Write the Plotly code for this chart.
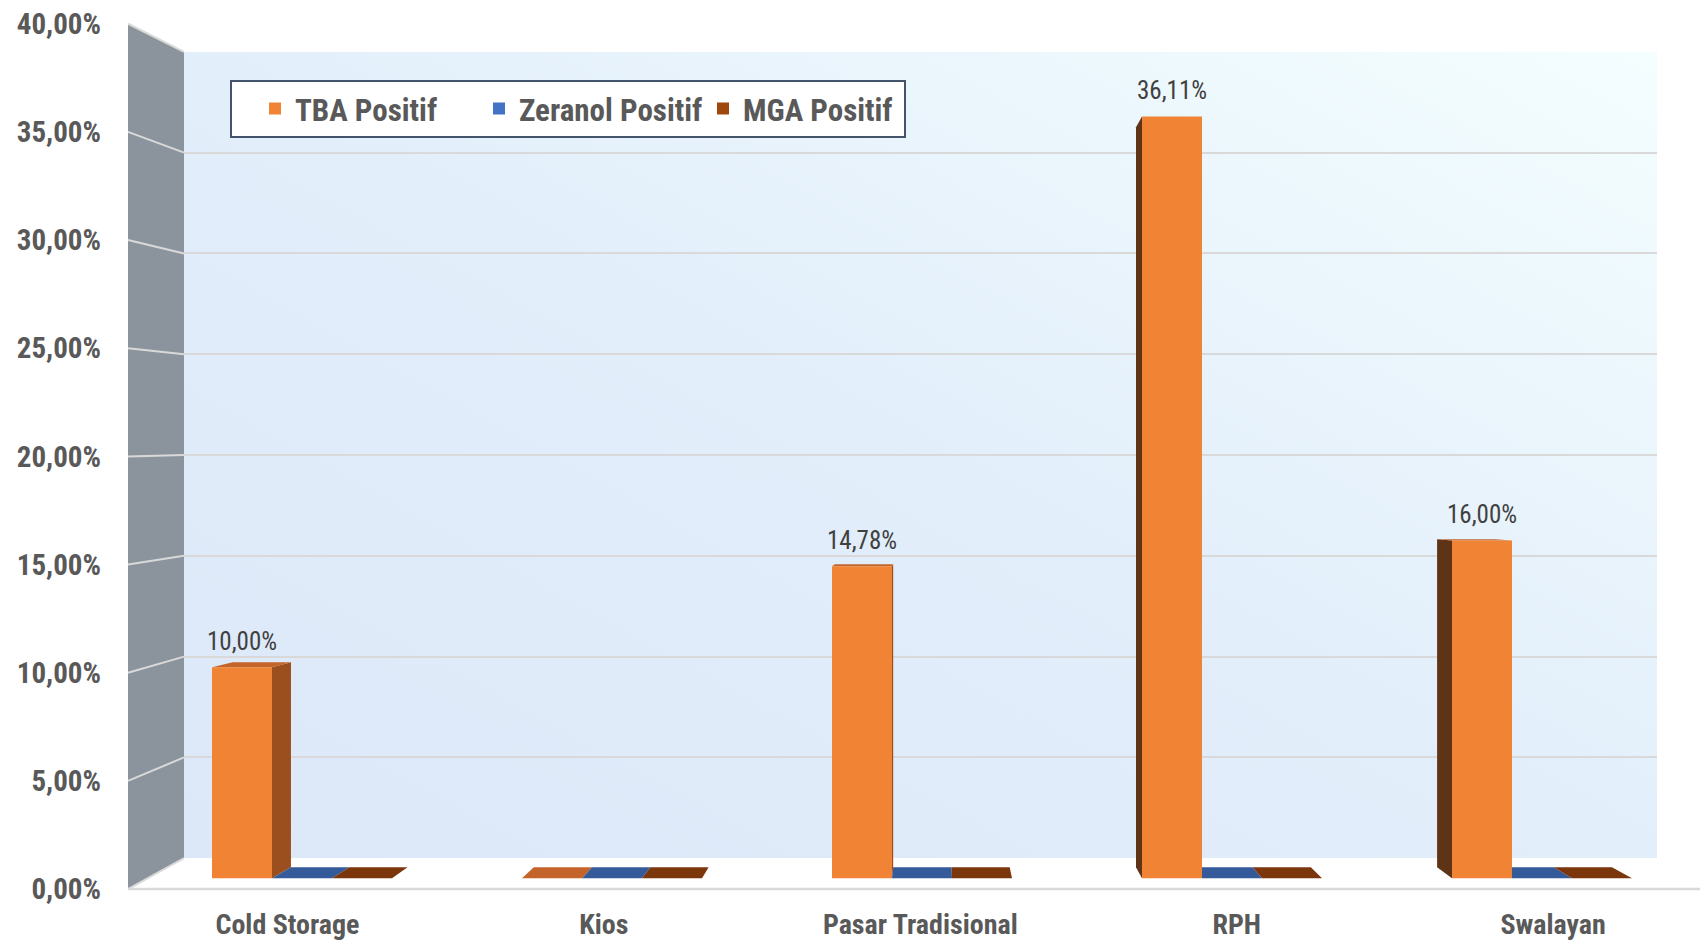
import base64
import plotly.graph_objects as go

# ---------------- data ----------------
categories = ["Cold Storage", "Kios", "Pasar Tradisional", "RPH", "Swalayan"]
series_names = ["TBA Positif", "Zeranol Positif", "MGA Positif"]
tba_positif = [0.1000, 0.0000, 0.1478, 0.3611, 0.1600]
zeranol_positif = [0.0, 0.0, 0.0, 0.0, 0.0]
mga_positif = [0.0, 0.0, 0.0, 0.0, 0.0]
value_ticks = [0.00, 0.05, 0.10, 0.15, 0.20, 0.25, 0.30, 0.35, 0.40]

series_values = [tba_positif, zeranol_positif, mga_positif]

# ---------------- style ----------------
front_colors = ["#f08434", "#4472c4", "#9e480e"]
top_colors = ["#c4632a", "#345a9a", "#7b360c"]
right_side_colors = ["#9b4f1e", "#2f528f", "#6b2f0a"]
left_side_colors = ["#5f3416", "#203864", "#4a2108"]
FONT = "Arial Narrow, Liberation Sans Narrow, Roboto Condensed, DejaVu Sans Condensed, Roboto, sans-serif"

W, H = 1700, 941
# scene geometry (pixels)
BAR_BASE_PX, BAR_PX = 880.0, 2114.0          # bar front plane
GROUP_PX0, GROUP_PITCH, GROUP_WIDTH_PX = 302.0, 310.0, 180.0
FRONT_BASE_PX, FRONT_PX = 891.0, 2168.0      # front edge (tick labels)
BACK_BASE_PX, BACK_PX = 860.0, 2020.0        # back wall
WALL_LEFT, WALL_RIGHT = 184.0, 1657.0
SIDE_FRONT_X = 128.0
LABEL_PX0, LABEL_PITCH = 287.5, 316.4
VANISH_PX = (933.0, 497.0)
DEPTH_SCALE = 0.9713
VMAX = 0.40
LEGEND_ENTRY_PX = 156


def pxx(px):
    return px / W


def pxy(py):
    return 1 - py / H


def front_y(v):
    return FRONT_BASE_PX - FRONT_PX * v


def back_y(v):
    return BACK_BASE_PX - BACK_PX * v


x2_range = [(0 - GROUP_PX0) / GROUP_PITCH, (W - GROUP_PX0) / GROUP_PITCH]
y2_range = [(BAR_BASE_PX - H) / BAR_PX, BAR_BASE_PX / BAR_PX]
x3_range = [(0 - LABEL_PX0) / LABEL_PITCH, (W - LABEL_PX0) / LABEL_PITCH]
y3_range = [(FRONT_BASE_PX - H) / FRONT_PX, FRONT_BASE_PX / FRONT_PX]

xv = (VANISH_PX[0] - GROUP_PX0) / GROUP_PITCH
yv = (BAR_BASE_PX - VANISH_PX[1]) / BAR_PX


def back(x, y):
    return (xv + (x - xv) * DEPTH_SCALE, yv + (y - yv) * DEPTH_SCALE)


gw = GROUP_WIDTH_PX / GROUP_PITCH
bw = gw / 3

fig = go.Figure()

# back wall grid carrier (xy)
fig.add_trace(go.Scatter(x=[None], y=[None], xaxis="x", yaxis="y",
                         showlegend=False, hoverinfo="skip"))

xs = list(range(len(categories)))
for j, (name, vals) in enumerate(zip(series_names, series_values)):
    fig.add_trace(go.Bar(
        x=xs, y=vals, name=name, xaxis="x2", yaxis="y2",
        marker=dict(color=front_colors[j], line=dict(width=0)),
        hovertemplate="%{customdata}<br>" + name + ": %{y:.2%}<extra></extra>",
        customdata=categories,
    ))

# label carriers
fig.add_trace(go.Scatter(x=[None], y=[None], xaxis="x2", yaxis="y3",
                         showlegend=False, hoverinfo="skip"))
fig.add_trace(go.Scatter(x=[None], y=[None], xaxis="x3", yaxis="y2",
                         showlegend=False, hoverinfo="skip"))

shapes = []
# side wall
shapes.append(dict(
    type="path", xref="paper", yref="paper", layer="below",
    path=(f"M{pxx(SIDE_FRONT_X)},{pxy(front_y(VMAX))} L{pxx(WALL_LEFT)},{pxy(back_y(VMAX))} "
          f"L{pxx(WALL_LEFT)},{pxy(back_y(0))} L{pxx(SIDE_FRONT_X)},{pxy(front_y(0))} Z"),
    fillcolor="#8b949c", line=dict(width=0)))
for v in value_ticks:
    shapes.append(dict(
        type="line", xref="paper", yref="paper", layer="below",
        x0=pxx(SIDE_FRONT_X), y0=pxy(front_y(v)), x1=pxx(WALL_LEFT), y1=pxy(back_y(v)),
        line=dict(color="#d9d9d9", width=2)))
# floor front edge
shapes.append(dict(
    type="line", xref="paper", yref="paper", layer="below",
    x0=pxx(SIDE_FRONT_X), y0=pxy(front_y(0)), x1=1, y1=pxy(front_y(0)),
    line=dict(color="#d9d9d9", width=2.5)))

# 3-D faces of bars
for j, vals in enumerate(series_values):
    for i, v in enumerate(vals):
        xl = i - gw / 2 + j * bw
        xr = xl + bw
        if v > 0:
            if xr < xv:
                b0 = back(xr, 0)
                b1 = back(xr, v)
                shapes.append(dict(
                    type="path", xref="x2", yref="y2", layer="below",
                    path=f"M{xr},0 L{b0[0]},{b0[1]} L{b1[0]},{b1[1]} L{xr},{v} Z",
                    fillcolor=right_side_colors[j], line=dict(width=0)))
            elif xl > xv:
                b0 = back(xl, 0)
                b1 = back(xl, v)
                shapes.append(dict(
                    type="path", xref="x2", yref="y2", layer="below",
                    path=f"M{xl},0 L{b0[0]},{b0[1]} L{b1[0]},{b1[1]} L{xl},{v} Z",
                    fillcolor=left_side_colors[j], line=dict(width=0)))
        if v < yv:
            bl = back(xl, v)
            br = back(xr, v)
            shapes.append(dict(
                type="path", xref="x2", yref="y2", layer="below",
                path=f"M{xl},{v} L{xr},{v} L{br[0]},{br[1]} L{bl[0]},{bl[1]} Z",
                fillcolor=top_colors[j], line=dict(width=0)))

# value labels
annotations = []
for i, v in enumerate(tba_positif):
    if v > 0:
        annotations.append(dict(
            x=i - gw / 2 + bw / 2, y=v, xref="x2", yref="y2",
            text=f"{v * 100:.2f}".replace(".", ",") + "%",
            showarrow=False, yanchor="middle", yshift=26,
            font=dict(family=FONT, size=25, color="#404040")))

# back wall gradient image
svg = ('<svg xmlns="http://www.w3.org/2000/svg" width="400" height="220" preserveAspectRatio="none">'
       '<defs><linearGradient id="g" x1="0" y1="1" x2="1" y2="0">'
       '<stop offset="0" stop-color="#dce8f8"/><stop offset="0.5" stop-color="#e2eefa"/>'
       '<stop offset="1" stop-color="#f4feff"/></linearGradient></defs>'
       '<rect width="400" height="220" fill="url(#g)"/></svg>')
img_src = "data:image/svg+xml;base64," + base64.b64encode(svg.encode()).decode()

fig.update_layout(
    width=W, height=H,
    margin=dict(l=0, r=0, t=0, b=0),
    paper_bgcolor="white", plot_bgcolor="rgba(0,0,0,0)",
    separators=",.",
    barmode="group", bargap=1 - gw, bargroupgap=0,
    shapes=shapes, annotations=annotations,
    images=[dict(source=img_src, xref="paper", yref="paper", layer="below",
                 x=pxx(WALL_LEFT), y=pxy(back_y(VMAX)),
                 sizex=pxx(WALL_RIGHT) - pxx(WALL_LEFT),
                 sizey=pxy(back_y(VMAX)) - pxy(back_y(0)),
                 sizing="stretch", xanchor="left", yanchor="top")],
    xaxis=dict(domain=[pxx(WALL_LEFT), pxx(WALL_RIGHT)], range=[0, 1], type="linear",
               visible=False, anchor="y", fixedrange=True),
    yaxis=dict(domain=[pxy(back_y(0)), pxy(back_y(VMAX))], range=[0, VMAX], type="linear",
               anchor="x", showgrid=True, gridcolor="#d9d9d9", gridwidth=2,
               tickvals=value_ticks, showticklabels=False, zeroline=False,
               showline=False, ticks="", fixedrange=True),
    xaxis2=dict(domain=[0, 1], range=x2_range, type="linear", anchor="y2",
                visible=False, fixedrange=True),
    yaxis2=dict(domain=[0, 1], range=y2_range, type="linear", anchor="x2",
                visible=False, fixedrange=True),
    yaxis3=dict(overlaying="y2", anchor="free", position=pxx(SIDE_FRONT_X), side="left",
                range=y3_range, type="linear", tickvals=value_ticks, tickformat=".2%",
                showgrid=False, zeroline=False, showline=False, ticks="",
                ticklabelstandoff=27,
                tickfont=dict(family=FONT, size=29, color="#595959", weight="bold"),
                fixedrange=True),
    xaxis3=dict(overlaying="x2", anchor="free", position=pxy(front_y(0)), side="bottom",
                range=x3_range, type="linear", tickvals=xs, ticktext=categories,
                showgrid=False, zeroline=False, showline=False, ticks="",
                ticklabelstandoff=16,
                tickfont=dict(family=FONT, size=28, color="#595959", weight="bold"),
                fixedrange=True),
    legend=dict(orientation="h", x=pxx(230), y=pxy(80), xanchor="left", yanchor="top",
                bgcolor="white", bordercolor="#44546a", borderwidth=2,
                indentation=23, entrywidth=LEGEND_ENTRY_PX, entrywidthmode="pixels",
                font=dict(family=FONT, size=31, color="#595959", weight="bold"),
                itemclick=False, itemdoubleclick=False),
    showlegend=True,
)

fig.write_html(
    "out.html",
    config={"displayModeBar": False},
    post_script="document.body.style.margin='0';document.documentElement.style.overflow='hidden';",
)
